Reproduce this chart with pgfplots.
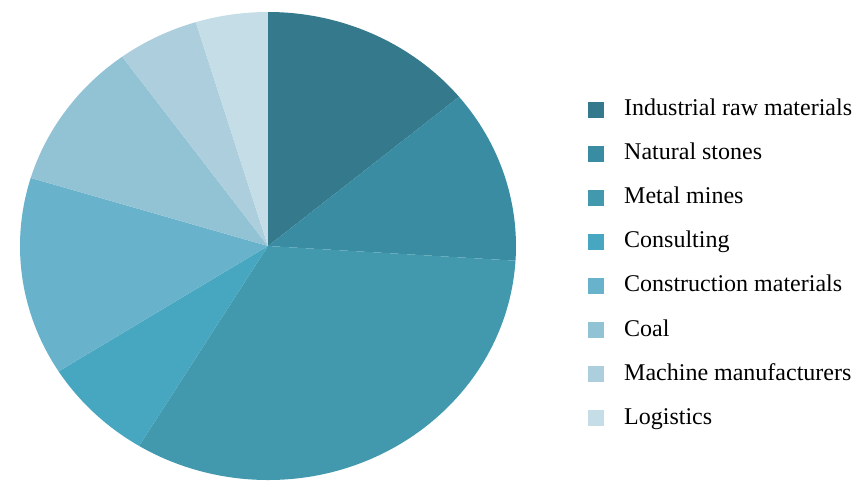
\documentclass[border=0pt]{standalone}
\usepackage{pgfplots}
\usepackage{pgfplotstable}
\pgfplotsset{compat=1.18}
\usepackage{fontspec}
\setmainfont{Liberation Serif}

\definecolor{cInd}{HTML}{347A8C}
\definecolor{cNat}{HTML}{3A8CA3}
\definecolor{cMet}{HTML}{4299AE}
\definecolor{cCon}{HTML}{48A7C0}
\definecolor{cCmat}{HTML}{68B3CB}
\definecolor{cCoal}{HTML}{92C3D5}
\definecolor{cMach}{HTML}{ADCFDD}
\definecolor{cLog}{HTML}{C5DDE6}

% shares in percent, clockwise from 12 o'clock
\pgfplotstableread[col sep=comma]{
name,value,color
Industrial raw materials,14.0,cInd
Natural stones,12.0,cNat
Metal mines,32.7,cMet
Consulting,7.3,cCon
Construction materials,13.7,cCmat
Coal,10.3,cCoal
Machine manufacturers,5.3,cMach
Logistics,4.7,cLog
}\piedata

\begin{document}
\begin{tikzpicture}
\begin{axis}[
    scale only axis,
    width=248pt, height=234pt,
    xmin=-1, xmax=1, ymin=-1, ymax=1,
    hide axis, clip=false,
    legend cell align=left,
    legend style={draw=none, fill=none, inner sep=0pt,
        at={(axis cs:1.2903,0.6363)}, anchor=north west,
        font=\fontsize{12}{14}\selectfont,
        nodes={inner sep=0pt, text height=9pt, text depth=3pt},
        column sep=10pt, row sep=10.05pt},
]
\path (axis cs:-1.0806,-1.0043) rectangle (axis cs:2.4153,1.0513);
\def\curang{90}
\pgfplotsforeachungrouped \i in {0,...,7} {
    \pgfplotstablegetelem{\i}{value}\of\piedata \let\v\pgfplotsretval
    \pgfplotstablegetelem{\i}{color}\of\piedata \let\c\pgfplotsretval
    \pgfplotstablegetelem{\i}{name}\of\piedata \let\n\pgfplotsretval
    \pgfmathsetmacro\endang{\curang-3.6*\v}
    \edef\temp{\noexpand\fill[\c] (axis cs:0,0) -- (axis cs:{cos(\curang)},{sin(\curang)})
        arc[start angle=\curang, end angle=\endang, x radius=124pt, y radius=117pt] -- cycle;
        \noexpand\addlegendimage{legend image code/.code={\noexpand\fill[\c] (0pt,-3.75pt) rectangle (7.5pt,3.75pt);}}
        \noexpand\addlegendentry{\n}}
    \temp
    \let\curang\endang
}
\end{axis}
\end{tikzpicture}
\end{document}
